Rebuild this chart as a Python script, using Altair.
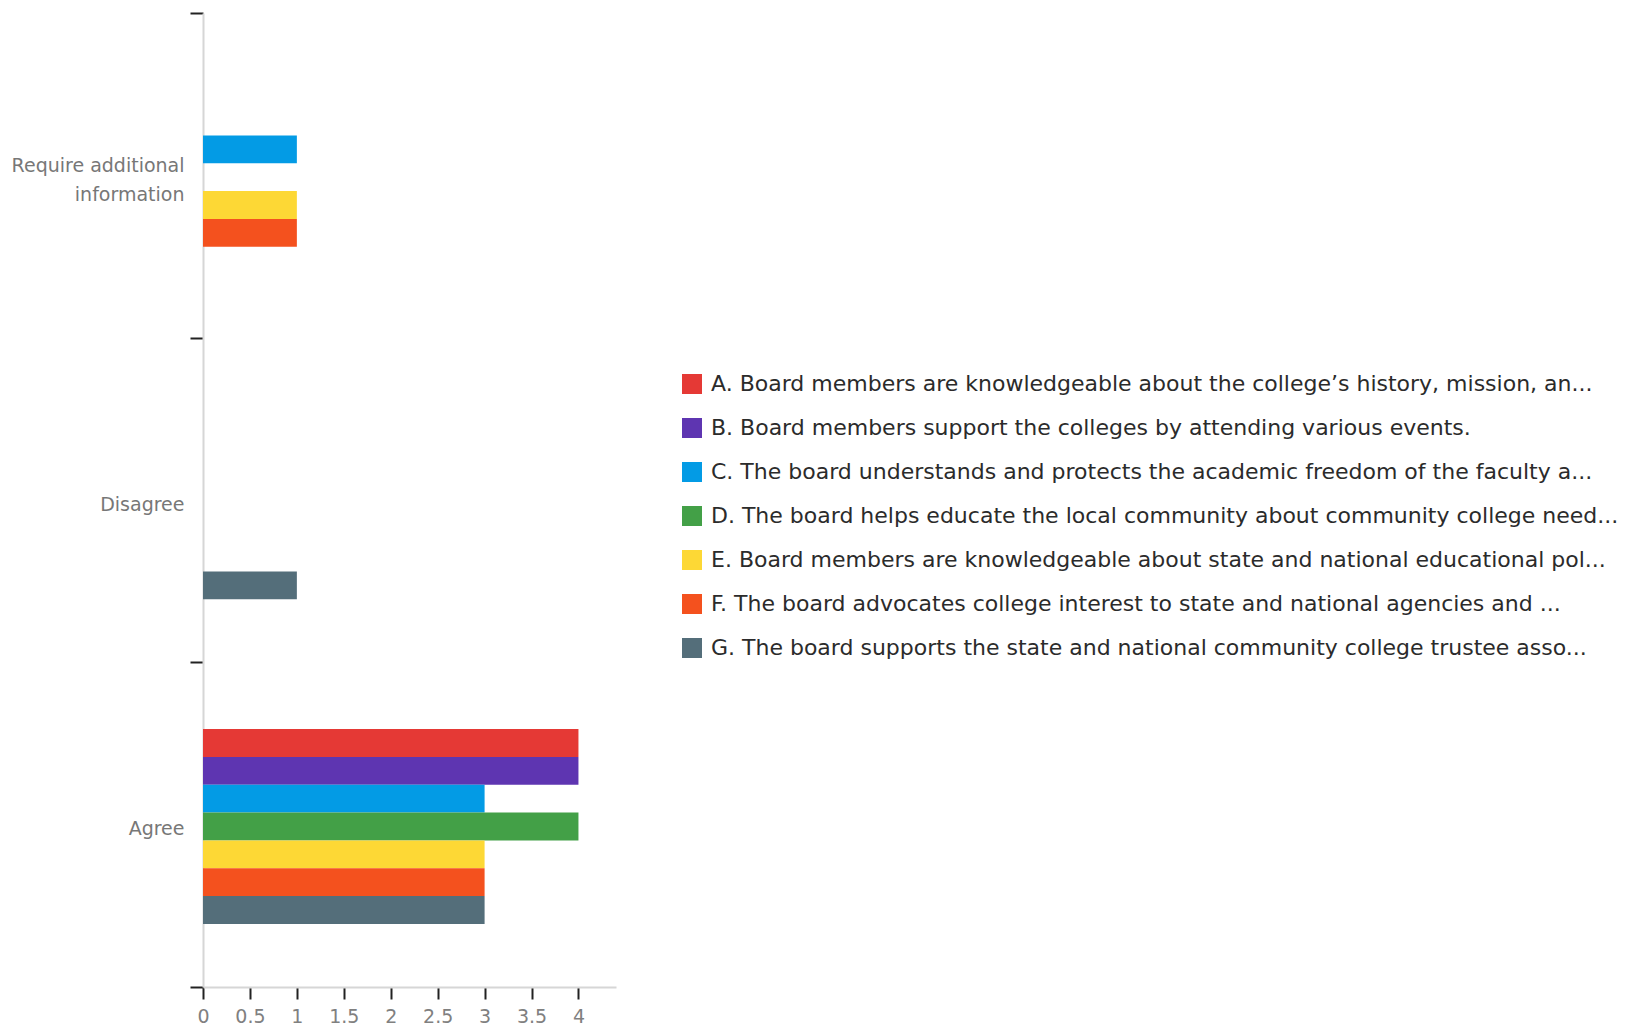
import altair as alt
import pandas as pd

categories = ["Require additional information", "Disagree", "Agree"]
series = [
    "A. Board members are knowledgeable about the college’s history, mission, an...",
    "B. Board members support the colleges by attending various events.",
    "C. The board understands and protects the academic freedom of the faculty a...",
    "D. The board helps educate the local community about community college need...",
    "E. Board members are knowledgeable about state and national educational pol...",
    "F. The board advocates college interest to state and national agencies and ...",
    "G. The board supports the state and national community college trustee asso...",
]
colors = ["#E53935", "#5E35B1", "#039BE5", "#43A047", "#FDD835", "#F4511E", "#546E7A"]

# values per series, in order of categories
values_A = [0, 0, 4]
values_B = [0, 0, 4]
values_C = [1, 0, 3]
values_D = [0, 0, 4]
values_E = [1, 0, 3]
values_F = [1, 0, 3]
values_G = [0, 1, 3]
all_values = [values_A, values_B, values_C, values_D, values_E, values_F, values_G]

x_ticks = [0, 0.5, 1, 1.5, 2, 2.5, 3, 3.5, 4]

rows = []
for s, vals in zip(series, all_values):
    for c, v in zip(categories, vals):
        if v > 0:
            rows.append({"category": c, "series": s, "value": v})
df = pd.DataFrame(rows)

# empty slots around the group of bars inside each band
offset_domain = ["_pad1", "_pad2"] + series + ["_pad3", "_pad4"]

FONT = "DejaVu Sans"

chart = alt.Chart(df).mark_bar().encode(
    y=alt.Y(
        "category:N",
        sort=categories,
        scale=alt.Scale(domain=categories, paddingInner=0, paddingOuter=0),
        axis=alt.Axis(
            title=None,
            tickBand="extent",
            tickSize=13,
            tickWidth=2,
            tickColor="#222222",
            domainColor="#d6d6d6",
            domainWidth=2,
            labelColor="#777777",
            labelFontSize=19,
            labelFont=FONT,
            labelPadding=6,
            labelLineHeight=29,
            labelLimit=300,
            labelOffset={"condition": {"test": "datum.value == 'Require additional information'", "value": -10}, "value": 4},
            labelExpr="datum.label == 'Require additional information' ? ['Require additional', 'information'] : datum.label",
        ),
    ),
    yOffset=alt.YOffset(
        "series:N",
        scale=alt.Scale(domain=offset_domain, paddingInner=0, paddingOuter=0.333, align=0.6),
    ),
    x=alt.X(
        "value:Q",
        scale=alt.Scale(domain=[0, 4.4], nice=False),
        axis=alt.Axis(
            title=None,
            values=x_ticks,
            format="~g",
            grid=False,
            tickSize=12,
            tickWidth=2,
            tickColor="#222222",
            domainColor="#d6d6d6",
            domainWidth=2,
            labelColor="#808080",
            labelFontSize=19,
            labelFont=FONT,
            labelPadding=8,
            labelFlush=False,
        ),
    ),
    color=alt.Color(
        "series:N",
        sort=series,
        scale=alt.Scale(domain=series, range=colors),
        legend=alt.Legend(
            title=None,
            orient="none",
            legendX=478,
            legendY=360,
            symbolType="square",
            symbolSize=400,
            symbolStrokeWidth=0,
            symbolOpacity=1,
            labelFontSize=22,
            labelFont=FONT,
            labelColor="#2b2b2b",
            labelLimit=1000,
            labelOffset=8,
            rowPadding=22,
            padding=0,
        ),
    ),
).properties(
    width=413,
    height=974,
    autosize=alt.AutoSizeParams(type="none"),
    padding={"left": 195, "top": 5, "right": 1006, "bottom": 45},
).configure_view(stroke=None)

chart.save("out.html", embed_options={"renderer": "svg", "actions": False})
